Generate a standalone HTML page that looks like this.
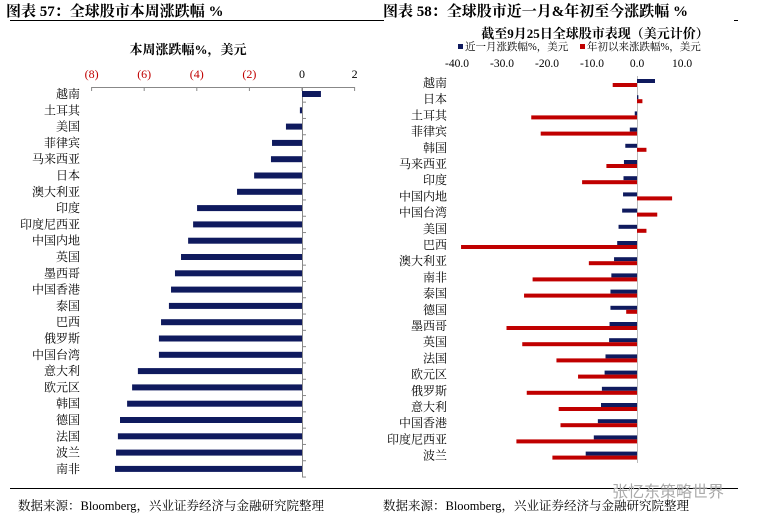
<!DOCTYPE html>
<html><head><meta charset="utf-8">
<style>
body{margin:0;background:#fff;width:759px;height:524px;overflow:hidden;font-family:"Liberation Serif","Noto Serif CJK SC",serif;}
svg{display:block}
</style></head><body>
<svg width="759" height="524" xmlns="http://www.w3.org/2000/svg">
<g id="left"></g>
<g id="right"></g>
</svg>
<script>
const NS="http://www.w3.org/2000/svg";
const leftCats=["越南","土耳其","美国","菲律宾","马来西亚","日本","澳大利亚","印度","印度尼西亚","中国内地","英国","墨西哥","中国香港","泰国","巴西","俄罗斯","中国台湾","意大利","欧元区","韩国","德国","法国","波兰","南非"];
const leftVals=[0.72,-0.08,-0.61,-1.14,-1.18,-1.82,-2.47,-3.99,-4.14,-4.33,-4.6,-4.83,-4.98,-5.06,-5.36,-5.44,-5.44,-6.24,-6.46,-6.65,-6.92,-7.0,-7.07,-7.11];
const leftTicks=[-8,-6,-4,-2,0,2];
const leftTickLabels=["(8)","(6)","(4)","(2)","0","2"];
const rightCats=["越南","日本","土耳其","菲律宾","韩国","马来西亚","印度","中国内地","中国台湾","美国","巴西","澳大利亚","南非","泰国","德国","墨西哥","英国","法国","欧元区","俄罗斯","意大利","中国香港","印度尼西亚","波兰"];
const monthVals=[4.0,0.3,-0.5,-1.6,-2.6,-2.9,-3.0,-3.1,-3.3,-4.1,-4.4,-5.1,-5.7,-5.9,-5.9,-6.1,-6.2,-7.0,-7.2,-7.8,-8.0,-8.7,-9.6,-11.4];
const ytdVals=[-5.4,1.2,-23.5,-21.4,2.1,-6.8,-12.2,7.8,4.5,2.1,-39.1,-10.7,-23.2,-25.1,-2.4,-29.0,-25.5,-17.9,-13.1,-24.5,-17.4,-17.0,-26.8,-18.8];
const rightTicks=[-40,-30,-20,-10,0,10];
const rightTickLabels=["-40.0","-30.0","-20.0","-10.0","0.0","10.0"];

function el(parent,tag,attrs,text){const e=document.createElementNS(NS,tag);for(const k in attrs)e.setAttribute(k,attrs[k]);if(text!==undefined)e.textContent=text;parent.appendChild(e);return e;}
const svg=document.querySelector('svg');
let t;
// header/footer
t=el(svg,'text',{x:6,y:16,'font-size':15,'font-weight':'bold',fill:'#000'},'图表 57：全球股市本周涨跌幅  %');

t=el(svg,'text',{x:383,y:16,'font-size':15,'font-weight':'bold',fill:'#000'},'图表 58：全球股市近一月&年初至今涨跌幅  %');

el(svg,'line',{x1:10,x2:380,y1:20.5,y2:20.5,stroke:'#000','stroke-width':1});
el(svg,'line',{x1:380,x2:384,y1:20.5,y2:20.5,stroke:'#000','stroke-width':1});
el(svg,'line',{x1:734,x2:738,y1:20.5,y2:20.5,stroke:'#000','stroke-width':1});
el(svg,'line',{x1:10,x2:380,y1:488.5,y2:488.5,stroke:'#000','stroke-width':1});
el(svg,'line',{x1:380,x2:738,y1:488.5,y2:488.5,stroke:'#000','stroke-width':1});
t=el(svg,'text',{x:18,y:510,'font-size':12.5,fill:'#000'},'数据来源：Bloomberg，兴业证券经济与金融研究院整理');

t=el(svg,'text',{x:383,y:510,'font-size':12.5,fill:'#000'},'数据来源：Bloomberg，兴业证券经济与金融研究院整理');

t=el(svg,'text',{x:612,y:497,'font-size':16,fill:'#aaa','font-family':'Liberation Sans, Noto Sans CJK SC, sans-serif'},'张忆东策略世界');


// LEFT
const L=document.getElementById('left');
const lx=v=>302+v*26.3;
const ly=i=>94+i*16.3;
t=el(L,'text',{x:188,y:54,'font-size':13,'font-weight':'bold','text-anchor':'middle'},'本周涨跌幅%，美元');

el(L,'line',{x1:lx(-8),x2:lx(2),y1:87.5,y2:87.5,stroke:'#888'});
leftTicks.forEach((v,i)=>{
  el(L,'line',{x1:lx(v),x2:lx(v),y1:87,y2:91,stroke:'#888'});
  const tx=el(L,'text',{x:lx(v),y:78,'font-size':12,'text-anchor':'middle',fill:v<0?'#c00000':'#000'},leftTickLabels[i]);
  
  
});
el(L,'line',{x1:302.5,x2:302.5,y1:87,y2:477,stroke:'#888'});
leftCats.forEach((c,i)=>{
  const y=ly(i);
  const v=leftVals[i];
  const r=el(L,'rect',{x:Math.min(lx(0),lx(v)),y:y-3,width:Math.abs(lx(v)-lx(0)),height:6,fill:'#0f1a5e'});
  
  
  const tx=el(L,'text',{x:80,y:y+4,'font-size':12,'text-anchor':'end'},c);
  
  
  el(L,'line',{x1:302,x2:306,y1:y+8.15,y2:y+8.15,stroke:'#888'});
});

// RIGHT
const R=document.getElementById('right');
const rx=v=>637+v*4.5;
const ry=i=>83+i*16.2;
t=el(R,'text',{x:595,y:38,'font-size':13,'font-weight':'bold','text-anchor':'middle'},'截至9月25日全球股市表现（美元计价）');

el(R,'rect',{x:458,y:44,width:5,height:5,fill:'#0f1a5e'});
t=el(R,'text',{x:465,y:50,'font-size':10.5},'近一月涨跌幅%，美元');

el(R,'rect',{x:580,y:44,width:5,height:5,fill:'#c00000'});
t=el(R,'text',{x:587,y:50,'font-size':10.5},'年初以来涨跌幅%，美元');

rightTicks.forEach((v,i)=>{
  const tx=el(R,'text',{x:rx(v),y:67,'font-size':11.5,'text-anchor':'middle'},rightTickLabels[i]);
  
  
});
el(R,'line',{x1:637.5,x2:637.5,y1:76,y2:463,stroke:'#bbb'});
rightCats.forEach((c,i)=>{
  const y=ry(i);
  const m=monthVals[i], d=ytdVals[i];
  const b=el(R,'rect',{x:Math.min(rx(0),rx(m)),y:y-4,width:Math.abs(rx(m)-rx(0)),height:4,fill:'#0f1a5e'});
  
  
  const r=el(R,'rect',{x:Math.min(rx(0),rx(d)),y:y,width:Math.abs(rx(d)-rx(0)),height:4,fill:'#c00000'});
  
  
  const tx=el(R,'text',{x:447,y:y+4,'font-size':12,'text-anchor':'end'},c);
  
  
});
</script>
</body></html>
